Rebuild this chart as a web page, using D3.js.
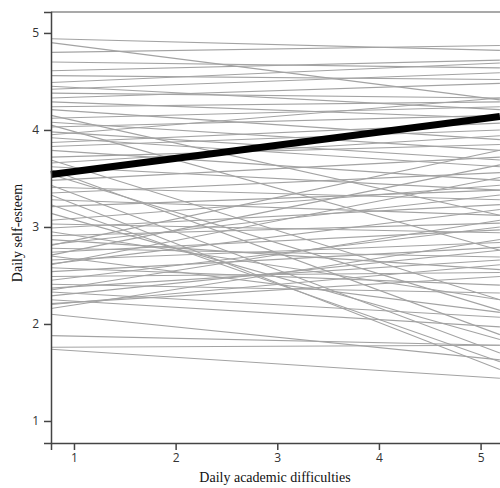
<!DOCTYPE html>
<html>
<head>
<meta charset="utf-8">
<script src="https://cdn.jsdelivr.net/npm/d3@7"></script>
<style>
  body { margin: 0; background: #fff; }
  svg { display: block; }
</style>
</head>
<body>
<div id="my_dataviz"></div>
<script>
// x range of each line (daily academic difficulties)
const xStart = 0.774;
const xEnd = 5.19;

// individual lines: self-esteem at the left end and at the right end
const startValues = [4.94, 4.90, 4.80, 4.70, 4.61, 4.56, 4.49, 4.45, 4.42, 4.38,
    4.33, 4.29, 4.24, 4.21, 4.12, 4.08, 4.03, 3.98, 3.95, 3.92,
    3.87, 3.83, 3.79, 3.72, 3.66, 3.62, 3.48, 3.41, 3.35, 3.28,
    3.21, 3.14, 3.23, 3.07, 3.03, 2.99, 2.95, 2.91, 2.87, 2.82,
    2.78, 2.74, 2.70, 2.66, 2.62, 2.58, 2.54, 2.49, 2.45, 2.41,
    2.37, 2.33, 2.29, 2.25, 2.21, 2.16, 2.10, 1.88, 1.76, 1.74,
    3.59, 3.43, 3.69, 3.54, 3.33, 4.15, 4.05, 2.71, 2.61, 2.81,
    2.35, 2.20];
const endValues = [4.82, 4.31, 4.87, 4.64, 4.72, 4.52, 4.69, 4.21, 4.59, 4.33,
    4.48, 4.12, 4.29, 3.90, 4.24, 3.79, 4.15, 3.69, 4.33, 3.62,
    4.07, 4.00, 3.48, 3.85, 3.94, 3.38, 3.72, 3.28, 3.56, 3.12,
    3.38, 1.84, 1.61, 3.43, 2.94, 3.23, 2.25, 3.04, 2.56, 3.33,
    2.69, 2.97, 2.12, 2.84, 3.18, 2.40, 2.79, 2.53, 3.00, 2.32,
    2.66, 2.07, 2.76, 1.97, 2.49, 2.87, 1.63, 1.78, 1.78, 1.44,
    1.89, 1.70, 2.25, 2.14, 1.53, 3.12, 2.76, 3.64, 3.51, 3.79,
    3.07, 2.61];

// average line
const meanStart = 3.54;
const meanEnd = 4.14;

// tick labels
const xTicks = [1, 2, 3, 4, 5];
const yTicks = [1, 2, 3, 4, 5];

// set the dimensions of the graph
var width = 500,
    height = 488;

var svg = d3.select("#my_dataviz")
    .append("svg")
    .attr("width", width)
    .attr("height", height);

// scales
var x = d3.scaleLinear()
    .domain([0.774, 5.25])
    .range([51, 506]);

var y = d3.scaleLinear()
    .domain([0.773, 5.216])
    .range([443, 12]);

// top border of the plot
svg.append("line")
    .attr("x1", x(0.774)).attr("x2", x(5.25))
    .attr("y1", y(5.216)).attr("y2", y(5.216))
    .attr("stroke", "#8c8c8c")
    .attr("stroke-width", 1.5);

var line = d3.line()
    .x(d => x(d[0]))
    .y(d => y(d[1]));

// thin lines, one per person
svg.append("g")
    .selectAll("path")
    .data(startValues.map((s, i) => [[xStart, s], [xEnd, endValues[i]]]))
    .enter()
    .append("path")
    .attr("d", line)
    .attr("fill", "none")
    .attr("stroke", "#a3a3a3")
    .attr("stroke-width", 1.1);

// thick average line
svg.append("path")
    .datum([[xStart, meanStart], [xEnd, meanEnd]])
    .attr("d", line)
    .attr("fill", "none")
    .attr("stroke", "#000")
    .attr("stroke-width", 7);

// axes
var xAxis = svg.append("g")
    .attr("transform", "translate(0," + y(0.773) + ")")
    .call(d3.axisBottom(x).tickValues(xTicks).tickFormat(d3.format("d"))
        .tickSizeOuter(0).tickSize(7).tickPadding(3));

var yAxis = svg.append("g")
    .attr("transform", "translate(" + x(0.774) + ",0)")
    .call(d3.axisLeft(y).tickValues(yTicks).tickFormat(d3.format("d"))
        .tickSizeOuter(0).tickSize(7).tickPadding(5));

[xAxis, yAxis].forEach(function (g) {
    g.select(".domain").attr("stroke", "#444").attr("stroke-width", 1.5);
    g.selectAll(".tick line").attr("stroke", "#444").attr("stroke-width", 1.5);
    g.selectAll(".tick text")
        .attr("fill", "#333")
        .style("font-family", "'Open Sans', sans-serif")
        .style("font-size", "12px");
});

// axis titles
svg.append("text")
    .attr("x", 275)
    .attr("y", 482)
    .attr("text-anchor", "middle")
    .style("font-family", "'Liberation Serif', serif")
    .style("font-size", "14px")
    .attr("fill", "#111")
    .text("Daily academic difficulties");

svg.append("text")
    .attr("transform", "translate(22,233) rotate(-90)")
    .attr("text-anchor", "middle")
    .style("font-family", "'Liberation Serif', serif")
    .style("font-size", "14px")
    .attr("fill", "#111")
    .text("Daily self-esteem");
</script>
</body>
</html>
